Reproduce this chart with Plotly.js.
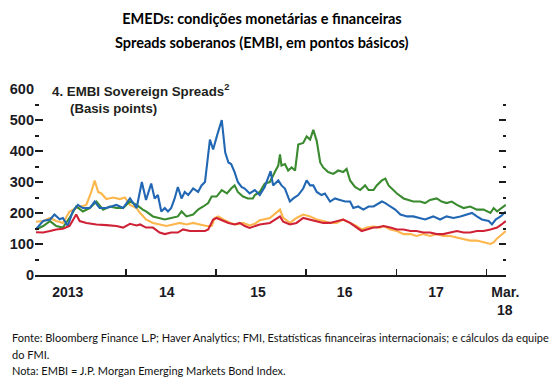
<!DOCTYPE html>
<html>
<head>
<meta charset="utf-8">
<script src="https://cdn.plot.ly/plotly-3.0.1.min.js"></script>
<style>html,body{margin:0;padding:0;background:#fff;}#chart{width:559px;height:391px;}</style>
</head>
<body>
<div id="chart"></div>
<script>
// ---- Data (EMBI sovereign spreads, basis points) ----
const blueDates = ["2013-01-01","2013-01-30","2013-02-27","2013-03-17","2013-04-07","2013-04-20","2013-05-10","2013-05-30","2013-06-20","2013-07-10","2013-08-07","2013-08-27","2013-09-16","2013-10-13","2013-11-23","2013-12-20","2014-01-17","2014-02-13","2014-03-06","2014-03-23","2014-04-13","2014-04-27","2014-05-10","2014-05-24","2014-06-07","2014-06-20","2014-07-03","2014-07-17","2014-07-30","2014-08-14","2014-08-27","2014-09-10","2014-09-30","2014-10-20","2014-11-03","2014-11-17","2014-12-07","2014-12-20","2015-01-06","2015-01-24","2015-02-07","2015-02-20","2015-03-03","2015-03-17","2015-03-30","2015-04-14","2015-04-27","2015-05-17","2015-06-07","2015-06-27","2015-07-17","2015-08-10","2015-08-20","2015-09-10","2015-09-23","2015-10-07","2015-10-27","2015-11-10","2015-11-30","2015-12-20","2016-01-03","2016-01-17","2016-01-30","2016-02-13","2016-03-03","2016-03-17","2016-04-07","2016-04-27","2016-05-17","2016-06-07","2016-06-27","2016-07-10","2016-07-30","2016-08-20","2016-09-10","2016-09-30","2016-11-03","2016-11-17","2016-12-07","2016-12-27","2017-01-17","2017-02-13","2017-03-10","2017-04-07","2017-04-27","2017-05-30","2017-06-27","2017-07-23","2017-08-20","2017-09-17","2017-10-13","2017-11-03","2017-11-23","2017-12-13","2018-01-10","2018-01-23","2018-02-07","2018-02-27","2018-03-20"];
const blueValues = [148,174,179,195,180,184,158,205,226,216,216,237,216,216,226,216,247,216,300,242,295,247,258,205,216,205,216,247,284,247,268,258,279,268,289,300,437,405,453,500,395,363,358,332,300,284,279,263,274,258,284,335,289,305,289,279,237,247,258,279,305,289,289,268,258,263,237,247,242,237,237,216,221,211,221,221,237,232,221,211,195,189,189,184,179,189,179,189,184,189,195,200,189,179,174,163,179,189,205];

const greenDates = ["2013-01-01","2013-01-30","2013-02-27","2013-03-24","2013-04-20","2013-05-17","2013-06-13","2013-07-10","2013-08-07","2013-09-03","2013-09-30","2013-10-27","2013-11-23","2013-12-20","2014-01-17","2014-02-13","2014-03-10","2014-03-23","2014-04-20","2014-05-17","2014-06-07","2014-07-03","2014-07-30","2014-08-14","2014-09-03","2014-09-30","2014-10-20","2014-11-10","2014-11-30","2014-12-14","2015-01-03","2015-01-24","2015-02-14","2015-03-03","2015-03-17","2015-03-30","2015-04-20","2015-05-10","2015-05-30","2015-06-07","2015-06-27","2015-07-17","2015-08-07","2015-08-27","2015-09-10","2015-09-17","2015-09-23","2015-10-07","2015-10-20","2015-11-03","2015-11-17","2015-11-30","2015-12-20","2016-01-03","2016-01-17","2016-01-30","2016-02-13","2016-02-27","2016-03-10","2016-03-30","2016-04-20","2016-05-10","2016-05-30","2016-06-13","2016-06-27","2016-07-17","2016-08-07","2016-08-27","2016-09-10","2016-09-30","2016-10-13","2016-11-03","2016-11-17","2016-11-30","2016-12-20","2017-01-03","2017-01-30","2017-02-20","2017-03-10","2017-04-07","2017-04-27","2017-05-17","2017-06-13","2017-07-03","2017-07-23","2017-08-13","2017-09-03","2017-09-30","2017-10-27","2017-11-23","2017-12-20","2018-01-17","2018-01-30","2018-02-13","2018-03-03","2018-03-20"];
const greenValues = [147,158,174,158,153,184,221,205,216,237,211,221,216,216,237,226,211,205,189,184,179,184,189,205,189,195,211,221,232,253,253,274,263,279,289,268,253,247,247,258,268,295,300,332,353,389,353,358,337,347,337,421,426,447,437,468,432,363,347,332,326,337,332,342,305,284,274,289,274,274,289,305,311,289,274,263,247,242,237,237,232,242,247,237,232,237,226,216,221,211,211,200,216,205,216,226];

const redDates = ["2013-01-01","2013-01-30","2013-02-27","2013-03-24","2013-04-20","2013-05-17","2013-06-13","2013-06-27","2013-07-24","2013-09-03","2013-10-13","2013-11-23","2013-12-20","2014-01-17","2014-02-13","2014-02-27","2014-03-23","2014-04-20","2014-05-17","2014-06-07","2014-07-03","2014-07-30","2014-08-20","2014-09-17","2014-10-14","2014-11-17","2014-11-30","2014-12-20","2015-01-03","2015-01-30","2015-02-20","2015-03-17","2015-04-07","2015-04-27","2015-05-17","2015-06-27","2015-08-07","2015-09-17","2015-09-30","2015-10-27","2015-11-23","2015-12-20","2016-01-17","2016-02-13","2016-03-10","2016-04-07","2016-05-03","2016-05-30","2016-06-27","2016-07-23","2016-08-13","2016-09-03","2016-09-30","2016-10-13","2016-11-10","2016-12-07","2017-01-03","2017-01-30","2017-02-27","2017-03-23","2017-04-20","2017-05-17","2017-06-13","2017-07-10","2017-08-07","2017-09-03","2017-09-30","2017-10-27","2017-11-23","2017-12-20","2018-01-17","2018-02-13","2018-03-03","2018-03-20"];
const redValues = [138,137,142,147,149,158,195,174,168,163,161,158,153,165,160,163,153,153,137,132,137,137,147,142,142,142,147,179,184,174,168,163,168,158,152,163,168,189,172,163,168,184,179,174,168,168,174,179,168,153,142,147,153,153,158,153,147,147,142,142,137,137,132,132,137,142,137,137,142,142,147,153,163,174];

const orangeDates = ["2013-01-01","2013-01-30","2013-02-27","2013-03-24","2013-04-20","2013-05-17","2013-06-13","2013-07-24","2013-08-13","2013-08-27","2013-09-10","2013-09-23","2013-10-13","2013-11-10","2013-12-07","2013-12-27","2014-01-17","2014-02-13","2014-02-27","2014-03-23","2014-04-20","2014-05-17","2014-06-14","2014-07-10","2014-08-07","2014-09-03","2014-09-30","2014-10-27","2014-11-24","2014-12-14","2014-12-27","2015-01-10","2015-01-30","2015-02-27","2015-03-24","2015-04-20","2015-05-17","2015-06-07","2015-06-27","2015-08-07","2015-09-17","2015-09-30","2015-10-27","2015-11-23","2015-12-20","2016-01-17","2016-02-13","2016-03-10","2016-04-07","2016-05-03","2016-05-30","2016-06-27","2016-07-23","2016-08-13","2016-09-03","2016-09-30","2016-10-27","2016-11-10","2016-12-07","2017-01-03","2017-01-30","2017-02-27","2017-03-23","2017-04-20","2017-05-17","2017-06-13","2017-07-10","2017-08-07","2017-09-03","2017-09-30","2017-10-27","2017-11-23","2017-12-20","2018-01-17","2018-01-30","2018-02-13","2018-03-03","2018-03-20"];
const orangeValues = [172,174,184,174,168,205,216,226,268,305,268,263,245,250,245,250,226,216,200,179,168,163,158,163,168,163,168,163,158,158,184,189,179,168,163,168,160,165,177,184,211,184,168,184,195,189,179,174,168,168,179,168,158,147,153,156,153,158,147,142,132,132,126,132,126,132,126,126,121,116,111,111,105,100,105,118,130,142];

// ---- Axis ticks and labels ----
const yearTicks = ["2013-01-01","2014-01-01","2015-01-01","2016-01-01","2017-01-01","2018-01-01"];
const xLabelDates = ["2013-05-10","2014-06-15","2015-06-20","2016-06-05","2017-06-10","2018-03-18"];
const xLabelText = ["2013","14","15","16","17","Mar."];
const yTickVals = [0,100,200,300,400,500,600];
const xRange = ["2012-12-28","2018-03-21"];
const yRange = [0,600];

const W = 559, H = 391;
const M = {l:35, r:53, t:89, b:116};
const pw = W - M.l - M.r, ph = H - M.t - M.b;
const px = x => (x - M.l) / pw;        // pixel -> paper x
const py = y => (H - M.b - y) / ph;    // pixel -> paper y

const lw = 2.1;
const traces = [
  {x: orangeDates, y: orangeValues, type:'scatter', mode:'lines', name:'orange', line:{color:'#fdb64c', width:lw}, xaxis:'x', yaxis:'y'},
  {x: greenDates, y: greenValues, type:'scatter', mode:'lines', name:'green', line:{color:'#3a8a30', width:lw}, xaxis:'x', yaxis:'y2'},
  {x: blueDates, y: blueValues, type:'scatter', mode:'lines', name:'blue', line:{color:'#2167b3', width:lw}, xaxis:'x', yaxis:'y2'},
  {x: redDates, y: redValues, type:'scatter', mode:'lines', name:'red', line:{color:'#cf2236', width:lw}, xaxis:'x2', yaxis:'y'}
];

const ink = '#1c1c1c';
const labelInk = '#1a1a24';
const xFont = {family:'Liberation Sans', size:14, color:labelInk, weight:700};
const yFont = {family:'Liberation Sans', size:14.5, color:labelInk, weight:700};

const layout = {
  width: W, height: H,
  margin: M,
  paper_bgcolor:'#fff', plot_bgcolor:'#fff',
  showlegend:false,
  title: {
    text:'EMEDs: condições monetárias e financeiras',
    font:{family:'Lato', size:14.5, color:'#000', weight:700},
    x: 262/W, xanchor:'center', xref:'container',
    y: 1 - 19/H, yanchor:'middle', yref:'container'
  },
  xaxis: {
    type:'date', range:xRange, showgrid:false, zeroline:false,
    showline:true, linecolor:ink, linewidth:2,
    tickmode:'array', tickvals:yearTicks, ticks:'inside', ticklen:6, tickwidth:1.5, tickcolor:ink,
    showticklabels:false, fixedrange:true
  },
  xaxis2: {
    type:'date', range:xRange, overlaying:'x', anchor:'y', side:'bottom',
    showgrid:false, zeroline:false, showline:false,
    tickmode:'array', tickvals:xLabelDates, ticktext:xLabelText,
    ticks:'outside', ticklen:4, tickcolor:'rgba(0,0,0,0)',
    tickfont:xFont, fixedrange:true
  },
  yaxis: {
    range:yRange, showgrid:false, zeroline:false, showline:false,
    tickmode:'array', tickvals:yTickVals, ticks:'inside', ticklen:8, tickwidth:2, tickcolor:ink,
    minor:{dtick:50, tick0:0, ticks:'inside', ticklen:4, tickwidth:2, tickcolor:ink},
    tickfont:yFont,
    fixedrange:true
  },
  yaxis2: {
    range:yRange, overlaying:'y', side:'right', anchor:'x',
    showgrid:false, zeroline:false, showline:false, showticklabels:false,
    tickmode:'array', tickvals:yTickVals, ticks:'inside', ticklen:7, tickwidth:2, tickcolor:ink,
    minor:{dtick:50, tick0:0, ticks:'inside', ticklen:3, tickwidth:2, tickcolor:ink},
    fixedrange:true
  },
  annotations: [
    {text:'Spreads soberanos (EMBI, em pontos básicos)', xref:'paper', yref:'paper', x:px(262), y:py(42), xanchor:'center', yanchor:'middle', showarrow:false,
     font:{family:'Lato', size:14.5, color:'#000', weight:700}},
    {text:'4. EMBI Sovereign Spreads<sup>2</sup>', xref:'paper', yref:'paper', x:px(50), y:py(90), xanchor:'left', yanchor:'middle', showarrow:false,
     font:{family:'Liberation Sans', size:13.3, color:'#231f20', weight:700}},
    {text:'(Basis points)', xref:'paper', yref:'paper', x:px(68), y:py(108), xanchor:'left', yanchor:'middle', showarrow:false,
     font:{family:'Liberation Sans', size:13.2, color:'#231f20', weight:700}},
    {text:'18', xref:'x', yref:'paper', x:'2018-03-18', y:py(310), xanchor:'center', yanchor:'middle', showarrow:false,
     font:xFont},
    {text:'Fonte: Bloomberg Finance L.P; Haver Analytics; FMI, Estatísticas financeiras internacionais; e cálculos da equipe', xref:'paper', yref:'paper', x:px(10), y:py(337), xanchor:'left', yanchor:'middle', showarrow:false,
     font:{family:'Lato', size:11, color:'#111'}},
    {text:'do FMI.', xref:'paper', yref:'paper', x:px(10), y:py(354), xanchor:'left', yanchor:'middle', showarrow:false,
     font:{family:'Lato', size:11, color:'#111'}},
    {text:'Nota: EMBI = J.P. Morgan Emerging Markets Bond Index.', xref:'paper', yref:'paper', x:px(10), y:py(370), xanchor:'left', yanchor:'middle', showarrow:false,
     font:{family:'Lato', size:11, color:'#111'}}
  ]
};

Plotly.newPlot('chart', traces, layout, {staticPlot:true, displayModeBar:false});
</script>
</body>
</html>
